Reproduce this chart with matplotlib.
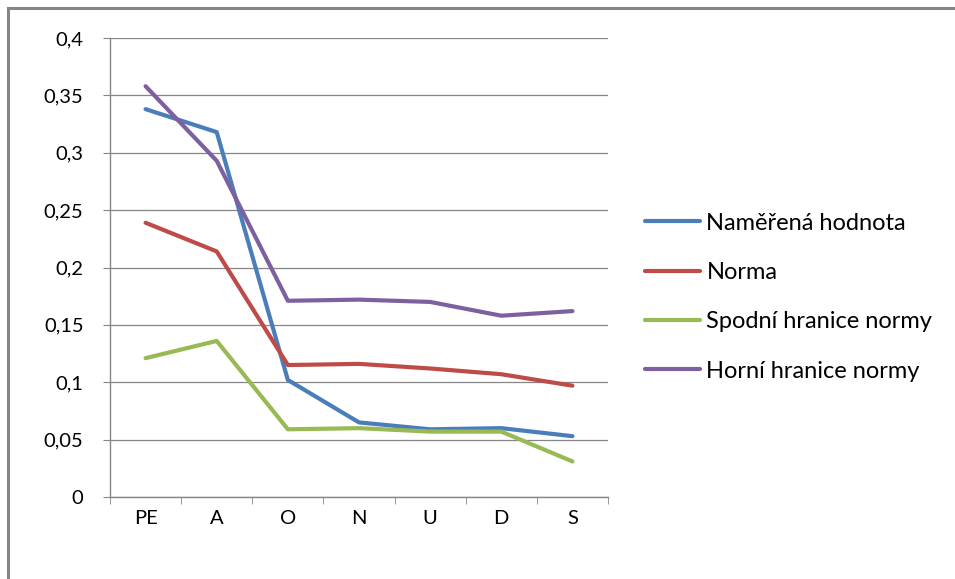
import matplotlib
matplotlib.use('Agg')
import matplotlib.pyplot as plt
from matplotlib.lines import Line2D
from matplotlib.ticker import FuncFormatter, MultipleLocator, FixedLocator

plt.rcParams['font.family'] = ['Lato', 'DejaVu Sans']

mesice = ['PE', 'A', 'O', 'N', 'U', 'D', 'S']
namerena = [0.338, 0.318, 0.102, 0.065, 0.059, 0.060, 0.053]
norma = [0.239, 0.214, 0.115, 0.116, 0.112, 0.107, 0.097]
spodni = [0.121, 0.136, 0.059, 0.060, 0.057, 0.057, 0.031]
horni = [0.358, 0.293, 0.171, 0.172, 0.170, 0.158, 0.162]

serie = [
    ('Naměřená hodnota', namerena, '#4A7EBB'),
    ('Norma', norma, '#BE4B48'),
    ('Spodní hranice normy', spodni, '#98B954'),
    ('Horní hranice normy', horni, '#7D60A0'),
]

seda = '#868686'

fig = plt.figure(figsize=(9.55, 5.79), dpi=100, facecolor='white')
ax = fig.add_axes([110 / 955, 1 - 497 / 579, 498 / 955, 459 / 579])

x = list(range(len(mesice)))
for nazev, hodnoty, barva in serie:
    ax.plot(x, hodnoty, color=barva, linewidth=3.0, label=nazev,
            solid_joinstyle='round', solid_capstyle='round')

ax.set_xlim(-0.5, len(mesice) - 0.5)
ax.set_ylim(0, 0.4)
ax.yaxis.set_major_locator(MultipleLocator(0.05))
ax.yaxis.set_major_formatter(FuncFormatter(lambda v, p: ('%g' % round(v, 2)).replace('.', ',')))
ax.set_xticks(x)
ax.set_xticklabels(mesice)
ax.xaxis.set_minor_locator(FixedLocator([i - 0.5 for i in range(len(mesice) + 1)]))

ax.grid(axis='y', color=seda, linewidth=0.9)
ax.set_axisbelow(True)
for strana in ['top', 'right']:
    ax.spines[strana].set_visible(False)
for strana in ['left', 'bottom']:
    ax.spines[strana].set_color(seda)
    ax.spines[strana].set_linewidth(1.0)

ax.tick_params(axis='y', length=5, color=seda, pad=14, labelsize=14.5)
ax.tick_params(axis='x', which='major', length=0, pad=9, labelsize=14.5)
ax.tick_params(axis='x', which='minor', length=5, color=seda)

ax.legend(loc='center left', bbox_to_anchor=(645 / 955, 1 - 297 / 579),
          bbox_transform=fig.transFigure, frameon=False, fontsize=17,
          handlelength=2.35, handletextpad=0.25, labelspacing=1.2,
          borderpad=0, borderaxespad=0)

fig.add_artist(Line2D([8 / 955, 1], [1 - 8 / 579, 1 - 8 / 579], color=seda, linewidth=2.2,
                      transform=fig.transFigure))
fig.add_artist(Line2D([8 / 955, 8 / 955], [0, 1 - 8 / 579], color=seda, linewidth=2.2,
                      transform=fig.transFigure))

fig.savefig('out.png', dpi=100, facecolor='white')
